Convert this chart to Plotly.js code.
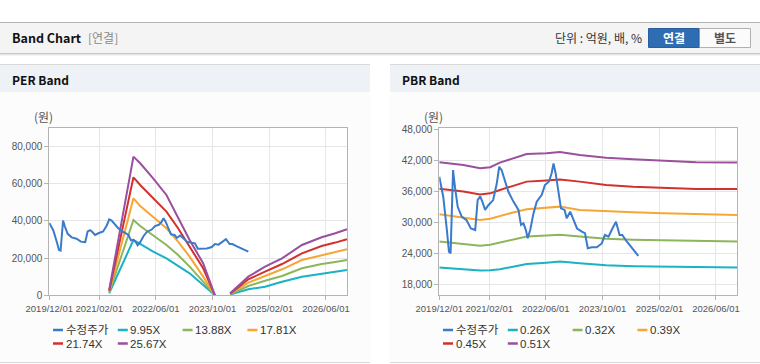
<!DOCTYPE html>
<html>
<head>
<meta charset="utf-8">
<script src="https://cdn.plot.ly/plotly-3.0.1.min.js"></script>
<style>
html,body{margin:0;padding:0;background:#fff;}
#chart{width:760px;height:364px;}
</style>
</head>
<body>
<div id="chart"></div>
<script>
// ---------- DATA ----------
const tickDates = ['2019-12-01','2021-02-01','2022-06-01','2023-10-01','2025-02-01','2026-06-01'];
const tickLabels = ['2019/12/01','2021/02/01','2022/06/01','2023/10/01','2025/02/01','2026/06/01'];

const priceDates = ['2019-12-01','2020-01-04','2020-02-04','2020-02-22','2020-03-07','2020-03-28','2020-04-13','2020-05-07','2020-06-10','2020-07-22','2020-08-28','2020-10-04','2020-10-25','2020-11-16','2020-12-04','2020-12-28','2021-01-25','2021-03-07','2021-04-07','2021-04-28','2021-05-19','2021-06-16','2021-07-16','2021-08-28','2021-10-10','2021-11-01','2021-11-22','2021-12-13','2021-12-28','2022-01-19','2022-02-16','2022-03-16','2022-04-28','2022-05-25','2022-06-28','2022-07-22','2022-08-07','2022-08-25','2022-09-19','2022-10-10','2022-11-10','2022-11-28','2022-12-28','2023-01-25','2023-02-25','2023-04-07','2023-05-04','2023-05-28','2023-07-01','2023-08-13','2023-09-25','2023-10-22','2023-11-22','2023-12-19','2024-01-25','2024-02-25','2024-03-19','2024-04-28','2024-06-10','2024-08-04'];
const priceValues = [38800,34950,28500,24300,24000,40100,36900,33000,31100,30400,28800,28500,34300,35000,34000,32400,33300,34300,37500,40750,40100,38200,35900,34000,32400,29500,29800,28500,26900,28500,31700,34000,35300,37200,37850,39500,41400,39500,35900,32700,32400,30800,32050,30400,28800,28200,27900,24970,25160,25160,25900,27540,27200,28500,30100,27540,27540,26240,24970,23480];

const perBandDates = ['2021-04-28','2021-11-22','2022-01-19','2022-05-10','2022-09-01','2022-12-10','2023-03-19','2023-07-13','2023-10-22','2024-01-01','2024-03-01','2024-08-04','2024-12-25','2025-05-20','2025-11-07','2026-04-25','2026-08-20','2026-11-28'];
const per995  = [1100,29700,27560,23450,19870,15930,11810,5550,0,null,450,3220,4620,7300,10000,11440,12600,13590];
const per1388 = [1540,40450,37230,32390,27020,21660,15390,7340,0,null,600,4990,7840,10360,14500,16800,17900,18950];
const per1781 = [1970,52080,47960,42240,35970,28810,20760,10020,0,null,750,6770,10360,13960,18950,21640,23200,24700];
const per2174 = [2410,63350,59240,52080,44920,35970,26130,14500,0,null,900,8590,12670,16800,22550,26470,28300,30070];
const per2567 = [2850,74450,70870,62820,53870,41340,29700,17180,0,null,1100,10000,15370,19860,27000,31130,33290,35430];

const pbrBandDates = ['2019-12-01','2020-06-25','2020-11-15','2021-02-10','2021-05-04','2021-08-25','2021-12-20','2022-06-07','2022-10-01','2023-03-20','2023-11-01','2024-06-20','2025-03-05','2025-12-15','2026-12-01'];
const pbr026 = [21230,20900,20650,20700,20900,21400,21940,22190,22390,22060,21680,21500,21420,21350,21230];
const pbr032 = [26260,25800,25480,25650,26060,26650,27230,27450,27610,27230,26800,26600,26520,26400,26260];
const pbr039 = [31550,30970,30450,30700,31230,31900,32520,32800,33030,32390,32100,31940,31740,31550,31420];
const pbr045 = [36500,35950,35400,35600,36260,37000,37870,38070,38260,37870,37230,36900,36650,36450,36450];
const pbr051 = [41600,41100,40450,40650,41550,42400,43200,43350,43600,43030,42500,42200,41870,41600,41550];

const perNames = ['수정주가','9.95X','13.88X','17.81X','21.74X','25.67X'];
const pbrNames = ['수정주가','0.26X','0.32X','0.39X','0.45X','0.51X'];
const seriesColors = ['#3a7bcb','#1ab2c4','#8db55a','#f7a636','#d2312c','#9a4f9f'];

const perYTicks = [0,20000,40000,60000,80000];
const pbrYTicks = [18000,24000,30000,36000,42000,48000];

// ---------- LAYOUT HELPERS ----------
const W = 760, H = 364;
const px = x => x / W;
const py = y => 1 - y / H;
const FONT = '"Liberation Sans", Arial, "Noto Sans CJK KR", sans-serif';
const KFONT = '"Noto Sans CJK KR", "Liberation Sans", sans-serif';

function rect(x0, y0, x1, y1, fill, line) {
  return {type:'rect', xref:'paper', yref:'paper', x0:px(x0), x1:px(x1), y0:py(y1), y1:py(y0),
    fillcolor: fill, line: line ? {color: line, width: 1} : {width: 0}, layer:'below'};
}
function hline(x0, x1, y, color) {
  return {type:'line', xref:'paper', yref:'paper', x0:px(x0), x1:px(x1), y0:py(y), y1:py(y),
    line:{color: color, width: 1}, layer:'below'};
}
function text(x, y, t, opts) {
  opts = opts || {};
  return Object.assign({xref:'paper', yref:'paper', x:px(x), y:py(y), text:t, showarrow:false,
    xanchor:'left', yanchor:'middle', font:{family: FONT, size: 11, color:'#333'}}, opts);
}

const shapes = [];
const annotations = [];

// top header bar
shapes.push(rect(0, 22, 760, 53, '#f4f4f4'));
shapes.push(hline(0, 760, 22.5, '#b4b4b4'));
shapes.push(hline(0, 760, 53.5, '#c6c6c6'));
shapes.push(hline(0, 760, 54.5, '#e6e6e6'));
shapes.push(hline(0, 760, 55.5, '#f3f3f3'));
annotations.push(text(10, 38, '<b>Band Chart</b>', {font:{family:KFONT, size:12.5, color:'#111'}}));
annotations.push(text(86, 38, '[연결]', {font:{family:KFONT, size:12, color:'#8a8a8a'}}));
annotations.push(text(644, 38, '단위 : 억원, 배, %', {xanchor:'right', font:{family:KFONT, size:12, color:'#333'}}));
// buttons
shapes.push(rect(699, 28.5, 750.5, 47.5, '#fbfbfb', '#b0b0b0'));
shapes.push(rect(648.5, 28.5, 699, 47.5, '#2f6db3', '#295f9e'));
annotations.push(text(673.5, 38, '<b>연결</b>', {xanchor:'center', font:{family:KFONT, size:12, color:'#ffffff'}}));
annotations.push(text(725, 38, '<b>별도</b>', {xanchor:'center', font:{family:KFONT, size:12, color:'#555'}}));

// panels
const panels = [
  {x0:0, x1:370, title:'PER Band', names: perNames},
  {x0:390, x1:760, title:'PBR Band', names: pbrNames}
];
panels.forEach((p, k) => {
  shapes.push(rect(p.x0, 64, p.x1, 362, '#fcfcfc'));
  shapes.push(rect(p.x0, 64, p.x1, 92, '#eef2f7'));
  shapes.push(hline(p.x0, p.x1, 64.5, '#d8d8d8'));
  shapes.push(hline(p.x0, p.x1, 362.5, '#d8d8d8'));
  annotations.push(text(p.x0 + 10, 79, '<b>' + p.title + '</b>', {font:{family:KFONT, size:12, color:'#111'}}));
  const ox = k === 0 ? 0 : 390;
  shapes.push(rect(ox + 49.3, 128.3, ox + 347.3, 295.3, '#ffffff'));
  annotations.push(text(ox + 32, 117, '(원)', {font:{family:KFONT, size:12, color:'#555'}}));
  p.names.forEach((nm, i) => {
    const col = i % 4, row = Math.floor(i / 4);
    const lx = ox + 53 + col * 64.8;
    const ly = 330 + row * 13.5;
    shapes.push({type:'line', xref:'paper', yref:'paper', x0:px(lx), x1:px(lx + 10), y0:py(ly), y1:py(ly),
      line:{color: seriesColors[i], width: 2.5}, layer:'above'});
    annotations.push(text(lx + 10.5, ly, nm, {font:{family:FONT, size:11.5, color:'#333'}}));
  });
});

// ---------- TRACES ----------
function line(x, y, color, xa, ya) {
  return {type:'scatter', mode:'lines', x:x, y:y, xaxis:xa, yaxis:ya,
    line:{color:color, width:2}, connectgaps:false, hoverinfo:'skip', showlegend:false};
}
const traces = [
  line(perBandDates, per995,  seriesColors[1], 'x', 'y'),
  line(perBandDates, per1388, seriesColors[2], 'x', 'y'),
  line(perBandDates, per1781, seriesColors[3], 'x', 'y'),
  line(perBandDates, per2174, seriesColors[4], 'x', 'y'),
  line(perBandDates, per2567, seriesColors[5], 'x', 'y'),
  line(priceDates, priceValues, seriesColors[0], 'x', 'y'),
  line(pbrBandDates, pbr026, seriesColors[1], 'x2', 'y2'),
  line(pbrBandDates, pbr032, seriesColors[2], 'x2', 'y2'),
  line(pbrBandDates, pbr039, seriesColors[3], 'x2', 'y2'),
  line(pbrBandDates, pbr045, seriesColors[4], 'x2', 'y2'),
  line(pbrBandDates, pbr051, seriesColors[5], 'x2', 'y2'),
  line(priceDates, priceValues, seriesColors[0], 'x2', 'y2')
];

const xBase = {
  type:'date', range:['2019-12-01','2026-12-01'], tickmode:'array', tickvals:tickDates, ticktext:tickLabels,
  tickangle:0,
  showgrid:true, gridcolor:'#e6e6e6', gridwidth:1, zeroline:false,
  showline:true, mirror:true, linecolor:'#b4b4b4', linewidth:1,
  ticks:'outside', ticklen:4, tickcolor:'#b4b4b4',
  tickfont:{family:FONT, size:9.5, color:'#555'}, fixedrange:true
};
const yBase = {
  tickmode:'array', showgrid:true, gridcolor:'#e6e6e6', gridwidth:1, zeroline:false,
  showline:true, mirror:true, linecolor:'#b4b4b4', linewidth:1,
  ticks:'outside', ticklen:4, tickcolor:'#b4b4b4', tickformat:',d',
  tickfont:{family:FONT, size:10, color:'#555'}, fixedrange:true
};

const layout = {
  width: W, height: H, margin:{l:0, r:0, t:0, b:0},
  paper_bgcolor:'#ffffff', plot_bgcolor:'rgba(0,0,0,0)',
  showlegend:false, font:{family:FONT},
  xaxis: Object.assign({}, xBase, {domain:[px(49.3), px(347.3)], anchor:'y'}),
  yaxis: Object.assign({}, yBase, {domain:[py(295.3), py(128.3)], anchor:'x', range:[0, 89660], tickvals: perYTicks}),
  xaxis2: Object.assign({}, xBase, {domain:[px(439.3), px(737.3)], anchor:'y2'}),
  yaxis2: Object.assign({}, yBase, {domain:[py(295.3), py(128.3)], anchor:'x2', range:[15870, 48190], tickvals: pbrYTicks}),
  shapes: shapes,
  annotations: annotations
};

Plotly.newPlot('chart', traces, layout, {displayModeBar:false, staticPlot:true});
</script>
</body>
</html>
